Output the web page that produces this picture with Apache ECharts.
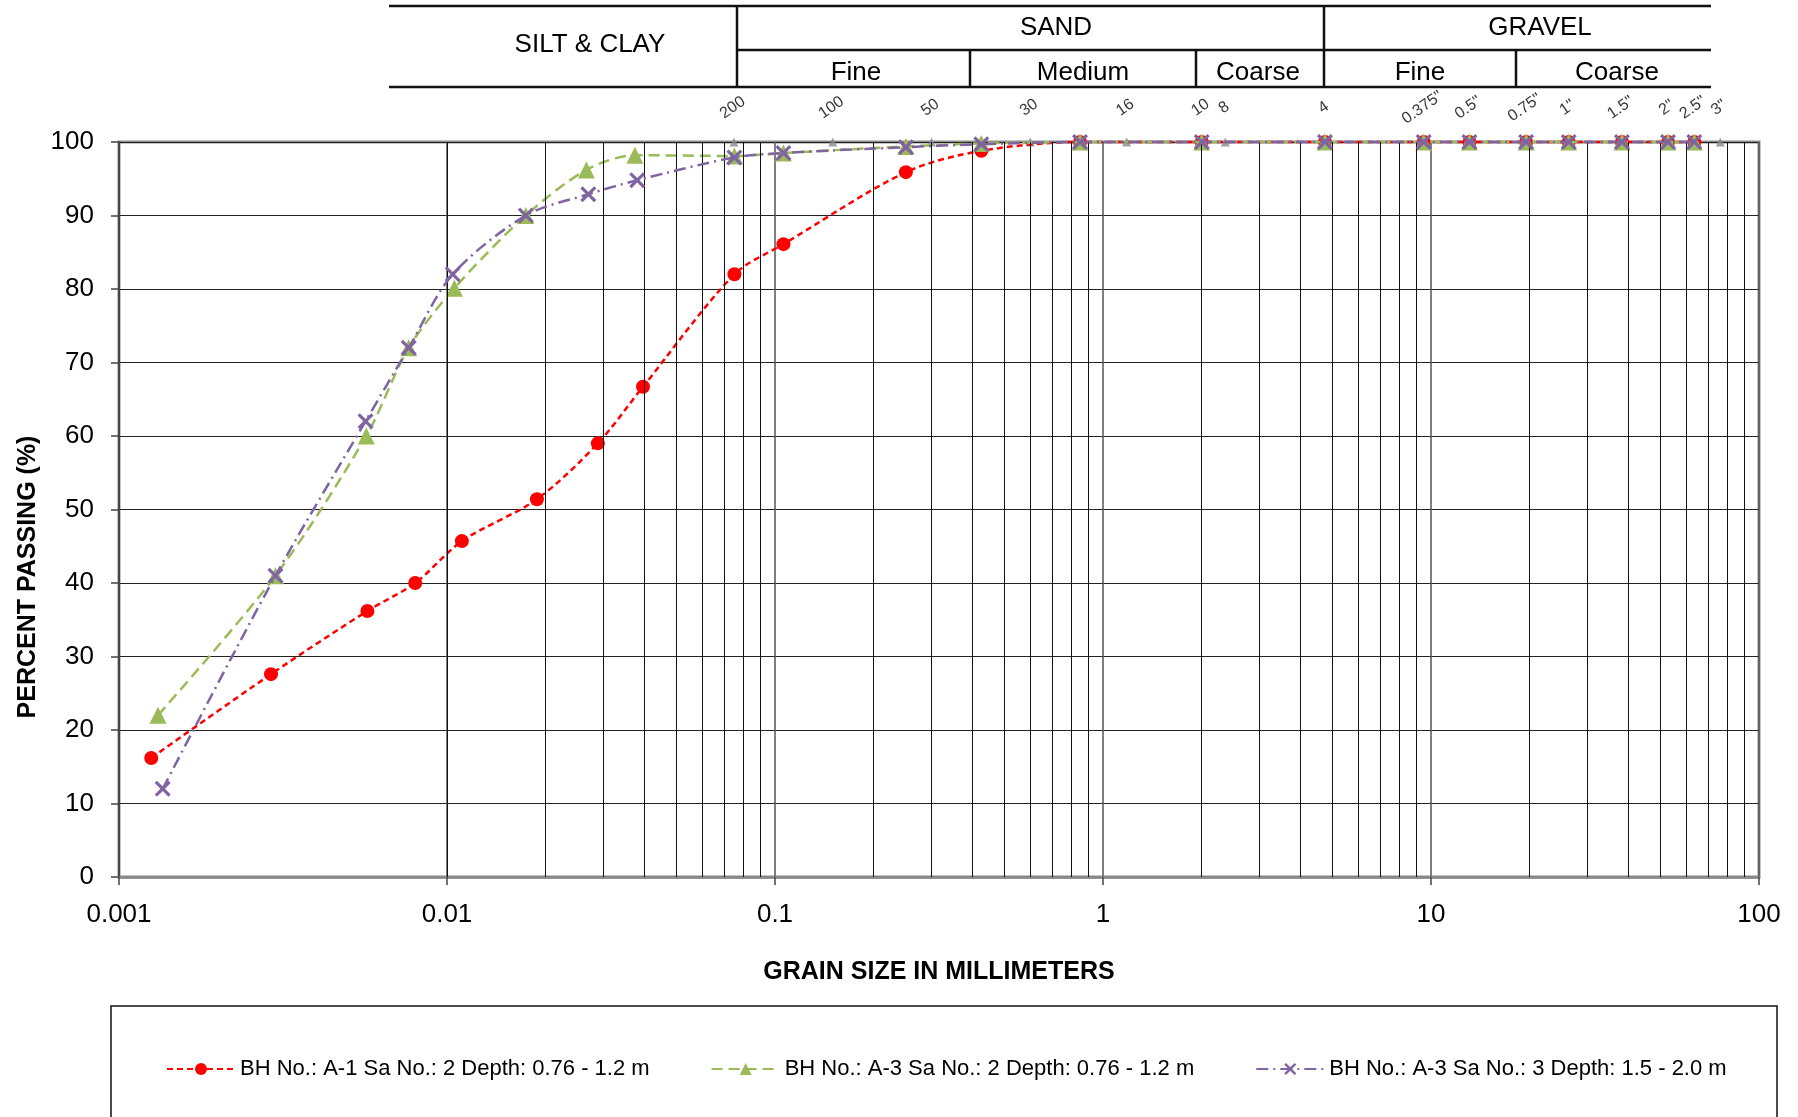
<!DOCTYPE html>
<html>
<head>
<meta charset="utf-8">
<script src="https://cdn.jsdelivr.net/npm/echarts@6/dist/echarts.min.js"></script>
<style>
html,body{margin:0;padding:0;background:#fff;}
#chart{width:1798px;height:1117px;}
</style>
</head>
<body>
<div id="chart"></div>
<script>
// ---- data ----
const sieveLabels = ['200','100','50','30','16','10','8','4','0.375"','0.5"','0.75"','1"','1.5"','2"','2.5"','3"'];
const sieveSizes  = [0.075,0.15,0.3,0.6,1.18,2.0,2.36,4.75,9.5,13.1,19.5,26.3,38.2,52.8,63.5,76.2];

const sizesA1S2 = [0.001254,0.002907,0.005718,0.008,0.0111,0.0188,0.02883,0.03959,0.0752,0.1061,0.2506,0.4256,0.851,2.0,4.75,9.5,13.1,19.5,26.3,38.2,52.8,63.5];
const passA1S2  = [16.2,27.6,36.2,40.0,45.7,51.4,59.0,66.7,82.0,86.1,95.9,98.8,100,100,100,100,100,100,100,100,100,100];

const sizesA3S2 = [0.001315,0.003,0.005672,0.007643,0.01053,0.01739,0.0266,0.0374,0.0752,0.1061,0.2506,0.4256,0.851,2.0,4.75,9.5,13.1,19.5,26.3,38.2,52.8,63.5];
const passA3S2  = [22.0,41.0,60.0,72.0,80.1,90.0,96.2,98.2,98.1,98.5,99.4,99.8,100,100,100,100,100,100,100,100,100,100];

const sizesA3S3 = [0.001359,0.003,0.005644,0.007643,0.01041,0.01739,0.02697,0.03802,0.0752,0.1061,0.2506,0.4256,0.851,2.0,4.75,9.5,13.1,19.5,26.3,38.2,52.8,63.5];
const passA3S3  = [12.0,41.0,62.0,72.0,82.0,90.0,92.9,94.8,97.9,98.5,99.3,99.7,100,100,100,100,100,100,100,100,100,100];

const seriesNames = [
  'BH No.: A-1 Sa No.: 2 Depth: 0.76 - 1.2 m',
  'BH No.: A-3 Sa No.: 2 Depth: 0.76 - 1.2 m',
  'BH No.: A-3 Sa No.: 3 Depth: 1.5 - 2.0 m'
];

const xTickLabels = ['0.001','0.01','0.1','1','10','100'];
const minorDecades = [0.001,0.01,0.1,1,10];
const minorSteps = [2,3,4,5,6,7,8,9];

// ---- helpers ----
const pairs = (xs, ys) => xs.map((x, i) => [x, ys[i]]);
const minorLines = [];
minorDecades.forEach(d => minorSteps.forEach(m => minorLines.push({ xAxis: +(d * m).toPrecision(3) })));

const FONT = 'Liberation Sans, Arial, sans-serif';
const xShape = 'path://M0,1.4 L1.4,0 L5,3.6 L8.6,0 L10,1.4 L6.4,5 L10,8.6 L8.6,10 L5,6.4 L1.4,10 L0,8.6 L3.6,5 Z';

// ---- header table (layout) ----
const hdrLine = (x1, y1, x2, y2) => ({ type: 'line', silent: true, shape: { x1, y1, x2, y2 }, style: { stroke: '#111', lineWidth: 2.5 } });
const hdrText = (text, x, y) => ({ type: 'text', silent: true, x, y, style: { text, font: '26px ' + FONT, fill: '#000', align: 'center', verticalAlign: 'middle' } });

const chart = echarts.init(document.getElementById('chart'), null, { renderer: 'canvas' });

chart.setOption({
  animation: false,
  backgroundColor: '#fff',
  textStyle: { fontFamily: FONT },
  grid: {
    left: 119, right: 39, top: 142, bottom: 240,
    show: true, borderColor: '#8c8c8c', borderWidth: 3, backgroundColor: 'transparent'
  },
  xAxis: {
    type: 'log', logBase: 10, min: 0.001, max: 100,
    name: 'GRAIN SIZE IN MILLIMETERS', nameLocation: 'middle', nameGap: 83,
    nameTextStyle: { fontSize: 25, fontWeight: 'bold', color: '#000', fontFamily: FONT },
    axisLine: { show: true, onZero: false, lineStyle: { color: '#888', width: 2.5 } },
    axisTick: { show: true, length: 8, lineStyle: { color: '#444', width: 1.5 } },
    minorTick: { show: false },
    axisLabel: { fontSize: 26, color: '#000', margin: 25, fontFamily: FONT,
      formatter: (v, i) => xTickLabels[i] },
    splitLine: { show: true, lineStyle: { color: '#555', width: 1.5 } }
  },
  yAxis: {
    type: 'value', min: 0, max: 100, interval: 10,
    axisLine: { show: true, lineStyle: { color: '#444', width: 2 } },
    axisTick: { show: true, length: 8, lineStyle: { color: '#444', width: 1.5 } },
    axisLabel: { fontSize: 26, color: '#000', margin: 25, fontFamily: FONT },
    splitLine: { show: true, lineStyle: { color: '#222', width: 1 } }
  },
  legend: {
    data: seriesNames,
    left: 161, top: 1053,
    itemWidth: 68, itemHeight: 15, itemGap: 61,
    textStyle: { fontSize: 22, color: '#000', fontFamily: FONT }
  },
  graphic: [
    hdrLine(389, 6, 1711, 6),
    hdrLine(737, 50, 1711, 50),
    hdrLine(389, 87, 1711, 87),
    hdrLine(737, 6, 737, 87),
    hdrLine(1324, 6, 1324, 87),
    hdrLine(970, 50, 970, 87),
    hdrLine(1196, 50, 1196, 87),
    hdrLine(1516, 50, 1516, 87),
    hdrText('SILT & CLAY', 590, 45),
    hdrText('SAND', 1056, 28),
    hdrText('GRAVEL', 1540, 28),
    hdrText('Fine', 856, 73),
    hdrText('Medium', 1083, 73),
    hdrText('Coarse', 1258, 73),
    hdrText('Fine', 1420, 73),
    hdrText('Coarse', 1617, 73),
    { type: 'text', silent: true, x: 28, y: 577, rotation: Math.PI / 2,
      style: { text: 'PERCENT PASSING (%)', font: 'bold 25px ' + FONT, fill: '#000', align: 'center', verticalAlign: 'middle' } },
    { type: 'rect', silent: true, shape: { x: 111, y: 1006, width: 1666, height: 140 },
      style: { fill: 'none', stroke: '#111', lineWidth: 1.5 } }
  ],
  series: [
    {
      name: 'sieves', type: 'scatter', z: 1, clip: false,
      symbol: 'triangle', symbolSize: 9,
      itemStyle: { color: '#8a8a8a' },
      data: pairs(sieveSizes, sieveSizes.map(() => 100)),
      label: {
        show: true, position: 'top', distance: 21, rotate: 35, offset: [4, 0],
        fontSize: 16, color: '#000', fontFamily: FONT,
        formatter: p => sieveLabels[p.dataIndex]
      },
      markLine: {
        silent: true, symbol: ['none', 'none'], animation: false,
        label: { show: false },
        lineStyle: { color: '#111', width: 1, type: 'solid' },
        emphasis: { disabled: true },
        data: minorLines
      }
    },
    {
      name: seriesNames[0], type: 'line', z: 3, clip: false,
      data: pairs(sizesA1S2, passA1S2),
      smooth: 0.3,
      symbol: 'circle', symbolSize: 14,
      itemStyle: { color: '#ff0000' },
      lineStyle: { color: '#ff0000', width: 2.5, type: [6, 4] }
    },
    {
      name: seriesNames[1], type: 'line', z: 4, clip: false,
      data: pairs(sizesA3S2, passA3S2),
      smooth: 0.3,
      symbol: 'triangle', symbolSize: 17,
      itemStyle: { color: '#9bbb59' },
      lineStyle: { color: '#9bbb59', width: 2.5, type: [11, 6] }
    },
    {
      name: seriesNames[2], type: 'line', z: 5, clip: false,
      data: pairs(sizesA3S3, passA3S3),
      smooth: 0.3,
      symbol: xShape, symbolSize: 16,
      itemStyle: { color: '#8064a2' },
      lineStyle: { color: '#8064a2', width: 2.5, type: [12, 5, 2, 5] }
    }
  ]
});
</script>
</body>
</html>
